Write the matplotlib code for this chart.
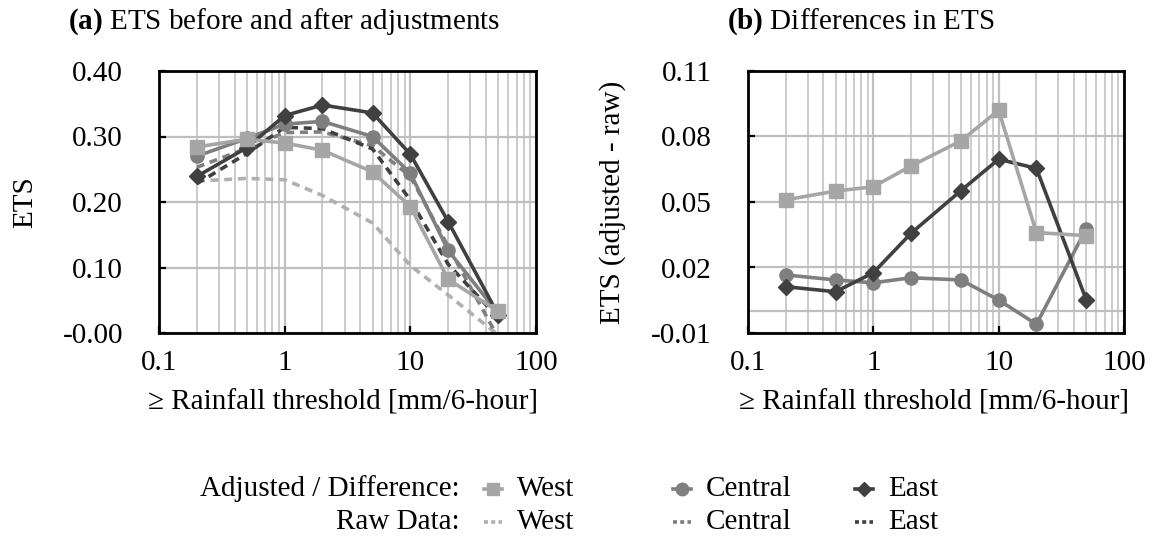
import matplotlib
matplotlib.use("Agg")
import matplotlib.pyplot as plt
from matplotlib.lines import Line2D
from matplotlib.ticker import FixedLocator, NullFormatter, LogLocator

plt.rcParams['font.family'] = ['Liberation Serif', 'DejaVu Serif']
plt.rcParams['mathtext.fontset'] = 'custom'
plt.rcParams['mathtext.rm'] = 'Liberation Serif'
plt.rcParams['mathtext.bf'] = 'Liberation Serif:bold'

# rainfall thresholds [mm/6-hour]
thresholds = [0.2, 0.5, 1, 2, 5, 10, 20, 50]

# ETS after adjustment
west_adj = [0.284, 0.296, 0.290, 0.279, 0.246, 0.193, 0.082, 0.033]
central_adj = [0.270, 0.297, 0.319, 0.323, 0.300, 0.244, 0.126, 0.030]
east_adj = [0.239, 0.283, 0.332, 0.348, 0.336, 0.273, 0.170, 0.028]

# ETS of the raw data
west_raw = [0.232, 0.236, 0.234, 0.210, 0.168, 0.103, 0.058, -0.003]
central_raw = [0.253, 0.282, 0.306, 0.307, 0.286, 0.239, 0.132, -0.007]
east_raw = [0.228, 0.274, 0.314, 0.312, 0.281, 0.203, 0.105, 0.023]

# adjusted - raw
west_diff = [0.051, 0.055, 0.057, 0.0665, 0.078, 0.092, 0.036, 0.0346]
central_diff = [0.0166, 0.0143, 0.013, 0.0153, 0.0143, 0.0051, -0.006, 0.0378]
east_diff = [0.0112, 0.0089, 0.0176, 0.0357, 0.0552, 0.0696, 0.0654, 0.0052]

ets_ticks = [0.0, 0.1, 0.2, 0.3, 0.4]
ets_ticklabels = ['-0.00', '0.10', '0.20', '0.30', '0.40']
diff_ticks = [-0.01, 0.02, 0.05, 0.08, 0.11]

regions = ['West', 'Central', 'East']

c_west = '#a6a6a6'
c_west_raw = '#b0b0b0'
c_central = '#7f7f7f'
c_east = '#404040'
c_grid = '#bfbfbf'

FS = 21
LW = 2.6
DASH = (2.2, 1.6)

fig = plt.figure(figsize=(11.52, 5.39), dpi=100)
W, H = 1152, 539


def px_axes(x0, x1, y0, y1):
    return fig.add_axes([x0 / W, 1 - y1 / H, (x1 - x0) / W, (y1 - y0) / H])


ax1 = px_axes(159, 536, 71, 333)
ax2 = px_axes(748, 1124, 71, 333)

for ax in (ax1, ax2):
    ax.set_xscale('log')
    ax.set_xlim(0.1, 100)
    ax.xaxis.set_major_locator(FixedLocator([0.1, 1, 10, 100]))
    ax.set_xticklabels(['0.1', '1', '10', '100'])
    ax.xaxis.set_minor_locator(LogLocator(base=10, subs=range(2, 10)))
    ax.xaxis.set_minor_formatter(NullFormatter())
    ax.grid(True, which='major', axis='both', color=c_grid, lw=1.6, zorder=0)
    ax.grid(True, which='minor', axis='x', color=c_grid, lw=1.1, zorder=0)
    ax.set_axisbelow(True)
    ax.tick_params(which='major', direction='in', length=5, width=1.6,
                   labelsize=FS, color='black')
    ax.tick_params(axis='x', which='major', pad=12)
    ax.tick_params(axis='y', which='major', pad=26)
    ax.tick_params(which='minor', length=0)
    for s in ax.spines.values():
        s.set_linewidth(2.0)
        s.set_color('black')
        s.set_zorder(10)

# (a) ETS before and after adjustments
ax1.set_ylim(0.0, 0.40)
ax1.set_yticks(ets_ticks)
ax1.set_yticklabels(ets_ticklabels)
ax1.plot(thresholds, west_raw, color=c_west_raw, lw=LW, dashes=DASH, zorder=2)
ax1.plot(thresholds, central_raw, color=c_central, lw=LW, dashes=DASH, zorder=2)
ax1.plot(thresholds, east_raw, color=c_east, lw=LW, dashes=DASH, zorder=2)
ax1.plot(thresholds, central_adj, color=c_central, lw=LW, marker='o', ms=9.5, zorder=3)
ax1.plot(thresholds, east_adj, color=c_east, lw=LW, marker='D', ms=8, zorder=4)
ax1.plot(thresholds, west_adj, color=c_west, lw=LW, marker='s', ms=9.5, zorder=5)

# (b) Differences in ETS
ax2.set_ylim(-0.01, 0.11)
ax2.set_yticks(diff_ticks)
ax2.set_yticklabels(['%.2f' % t for t in diff_ticks])
ax2.axhline(0, color=c_grid, lw=1.6, zorder=1)
ax2.plot(thresholds, central_diff, color=c_central, lw=LW, marker='o', ms=9.5, zorder=3)
ax2.plot(thresholds, east_diff, color=c_east, lw=LW, marker='D', ms=8, zorder=4)
ax2.plot(thresholds, west_diff, color=c_west, lw=LW, marker='s', ms=9.5, zorder=5)

# titles and axis labels
fig.text(68 / W, 1 - 22 / H, r'$\mathbf{(a)}$ ETS before and after adjustments',
         fontsize=FS, ha='left', va='center')
fig.text(727 / W, 1 - 22 / H, r'$\mathbf{(b)}$ Differences in ETS',
         fontsize=FS, ha='left', va='center')
fig.text(25 / W, 1 - 202 / H, 'ETS', fontsize=FS, rotation=90, ha='center', va='center')
fig.text(613 / W, 1 - 202 / H, 'ETS (adjusted - raw)', fontsize=FS, rotation=90,
         ha='center', va='center')
xlab = '\u2265 Rainfall threshold [mm/6-hour]'
fig.text(343 / W, 1 - 403 / H, xlab, fontsize=FS, ha='center', va='center')
fig.text(934 / W, 1 - 403 / H, xlab, fontsize=FS, ha='center', va='center')

# legend drawn by hand: marker rows for adjusted / difference, dash rows for raw
row_y = [1 - 489 / H, 1 - 522 / H]
handle_x = [493, 682, 864]
adj_style = [dict(color=c_west, marker='s', ms=8),
             dict(color=c_central, marker='o', ms=9),
             dict(color=c_east, marker='D', ms=7)]
raw_colors = [c_west_raw, c_central, c_east]
for name, hx, st, rc in zip(regions, handle_x, adj_style, raw_colors):
    xs = [(hx - 9) / W, hx / W, (hx + 9) / W]
    fig.add_artist(Line2D(xs, [row_y[0]] * 3, lw=LW, markevery=[1],
                          transform=fig.transFigure, **st))
    fig.add_artist(Line2D(xs, [row_y[1]] * 3, lw=LW, color=rc, dashes=(1.1, 0.9),
                          transform=fig.transFigure))
    for y in row_y:
        fig.text((hx + 24) / W, y, name, fontsize=FS, ha='left', va='center')
fig.text(460 / W, row_y[0], 'Adjusted / Difference:', fontsize=FS, ha='right', va='center')
fig.text(460 / W, row_y[1], 'Raw Data:', fontsize=FS, ha='right', va='center')

fig.savefig('out.png', dpi=100)
